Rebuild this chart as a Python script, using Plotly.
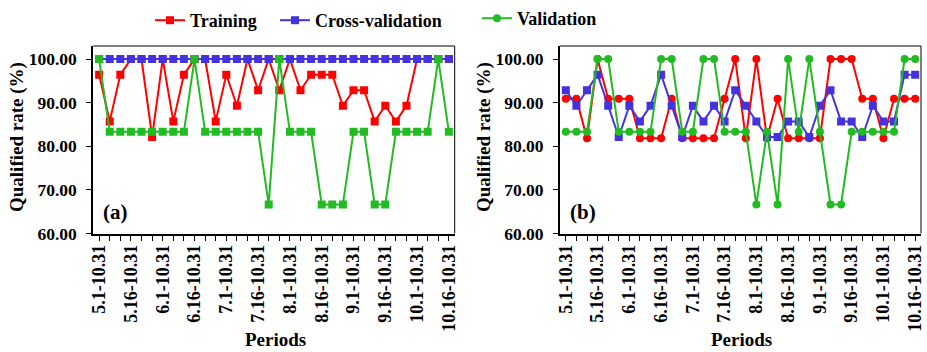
import plotly.graph_objects as go

periods = ["5.1-10.31", "5.6-10.31", "5.11-10.31", "5.16-10.31", "5.21-10.31", "5.26-10.31",
           "6.1-10.31", "6.6-10.31", "6.11-10.31", "6.16-10.31", "6.21-10.31", "6.26-10.31",
           "7.1-10.31", "7.6-10.31", "7.11-10.31", "7.16-10.31", "7.21-10.31", "7.26-10.31",
           "8.1-10.31", "8.6-10.31", "8.11-10.31", "8.16-10.31", "8.21-10.31", "8.26-10.31",
           "9.1-10.31", "9.6-10.31", "9.11-10.31", "9.16-10.31", "9.21-10.31", "9.26-10.31",
           "10.1-10.31", "10.6-10.31", "10.11-10.31", "10.16-10.31"]
shown_labels = ["5.1-10.31", "5.16-10.31", "6.1-10.31", "6.16-10.31", "7.1-10.31", "7.16-10.31",
                "8.1-10.31", "8.16-10.31", "9.1-10.31", "9.16-10.31", "10.1-10.31", "10.16-10.31"]

a_training = [96.43, 85.71, 96.43, 100, 100, 82.14, 100, 85.71, 96.43, 100, 100, 85.71,
              96.43, 89.29, 100, 92.86, 100, 92.86, 100, 92.86, 96.43, 96.43, 96.43, 89.29,
              92.86, 92.86, 85.71, 89.29, 85.71, 89.29, 100, 100, 100, 100]
a_cross = [100] * 34
a_validation = [100, 83.33, 83.33, 83.33, 83.33, 83.33, 83.33, 83.33, 83.33, 100, 83.33, 83.33,
                83.33, 83.33, 83.33, 83.33, 66.67, 100, 83.33, 83.33, 83.33, 66.67, 66.67, 66.67,
                83.33, 83.33, 66.67, 66.67, 83.33, 83.33, 83.33, 83.33, 100, 83.33]

b_training = [90.91, 90.91, 81.82, 100, 90.91, 90.91, 90.91, 81.82, 81.82, 81.82, 90.91, 81.82,
              81.82, 81.82, 81.82, 90.91, 100, 81.82, 100, 81.82, 90.91, 81.82, 81.82, 81.82,
              81.82, 100, 100, 100, 90.91, 90.91, 81.82, 90.91, 90.91, 90.91]
b_cross = [92.86, 89.29, 92.86, 96.43, 89.29, 82.14, 89.29, 85.71, 89.29, 96.43, 89.29, 82.14,
           89.29, 85.71, 89.29, 85.71, 92.86, 89.29, 85.71, 82.14, 82.14, 85.71, 85.71, 82.14,
           89.29, 92.86, 85.71, 85.71, 82.14, 89.29, 85.71, 85.71, 96.43, 96.43]
b_validation = [83.33, 83.33, 83.33, 100, 100, 83.33, 83.33, 83.33, 83.33, 100, 100, 83.33,
                83.33, 100, 100, 83.33, 83.33, 83.33, 66.67, 83.33, 66.67, 100, 83.33, 100,
                83.33, 66.67, 66.67, 83.33, 83.33, 83.33, 83.33, 83.33, 100, 100]

y_ticks = [60, 70, 80, 90, 100]

RED = "#ff0000"
BLUE = "#4433dd"
GREEN = "#22bb22"
FONT = "Times New Roman, Liberation Serif, serif"

idx = list(range(len(periods)))
ticktext = [p if p in shown_labels else "" for p in periods]

fig = go.Figure()

def add(x_axis, y_axis, ys, name, color, symbol, legend, showlegend):
    fig.add_trace(go.Scatter(
        x=idx, y=ys, name=name, mode="lines+markers",
        line=dict(color=color, width=2),
        marker=dict(symbol=symbol, size=8, color=color),
        xaxis=x_axis, yaxis=y_axis, legend=legend, showlegend=showlegend,
    ))

add("x", "y", a_training, "Training", RED, "square", "legend", True)
add("x", "y", a_cross, "Cross-validation", BLUE, "square", "legend2", True)
add("x", "y", a_validation, "Validation", GREEN, "square", "legend3", False)
add("x2", "y2", b_training, "Training", RED, "circle", "legend", False)
add("x2", "y2", b_cross, "Cross-validation", BLUE, "square", "legend2", False)
add("x2", "y2", b_validation, "Validation", GREEN, "circle", "legend3", True)

W, H = 927, 352

def px(x):
    return x / W

def py(y):
    return 1 - y / H

yd = [py(233.5), py(46)]
xd1 = [px(93.3), px(454.7)]
xd2 = [px(560), px(921)]

xaxis_common = dict(
    range=[-0.55, 33.55], tickmode="array", tickvals=idx, ticktext=ticktext,
    tickangle=-90, ticks="outside", ticklen=5, tickwidth=1, tickcolor="black",
    showline=True, linecolor="black", linewidth=2, mirror=False, showgrid=False,
    zeroline=False, tickfont=dict(family=FONT, size=18, color="black", weight="bold"),
    automargin=False, ticklabelstandoff=-3,
)
yaxis_common = dict(
    range=[60, 103], tickmode="array", tickvals=y_ticks,
    ticktext=[f"{v:.2f}" for v in y_ticks],
    ticks="outside", ticklen=5, tickwidth=1, tickcolor="black",
    showline=True, linecolor="black", linewidth=2, showgrid=False, zeroline=False,
    tickfont=dict(family=FONT, size=17.5, color="black", weight="bold"),
    automargin=False, ticklabelstandoff=6,
)

leg_font = dict(family=FONT, size=18, color="black", weight="bold")
fig.update_layout(
    width=W, height=H, margin=dict(l=0, r=0, t=0, b=0),
    paper_bgcolor="white", plot_bgcolor="white",
    xaxis=dict(domain=xd1, anchor="y", **xaxis_common),
    yaxis=dict(domain=yd, anchor="x", **yaxis_common),
    xaxis2=dict(domain=xd2, anchor="y2", **xaxis_common),
    yaxis2=dict(domain=yd, anchor="x2", **yaxis_common),
    font=dict(family=FONT, color="black"),
    legend=dict(x=px(150), y=py(2), xanchor="left", yanchor="top", orientation="h",
                font=leg_font, bgcolor="rgba(0,0,0,0)", borderwidth=0),
    legend2=dict(x=px(275), y=py(2), xanchor="left", yanchor="top", orientation="h",
                 font=leg_font, bgcolor="rgba(0,0,0,0)", borderwidth=0),
    legend3=dict(x=px(477), y=py(0), xanchor="left", yanchor="top", orientation="h",
                 font=leg_font, bgcolor="rgba(0,0,0,0)", borderwidth=0),
    showlegend=True,
)

# thin top/right frame
for xr, yr in (("x domain", "y domain"), ("x2 domain", "y2 domain")):
    fig.add_shape(type="line", xref=xr, yref=yr, x0=0, x1=1, y0=1, y1=1,
                  line=dict(color="black", width=1))
    fig.add_shape(type="line", xref=xr, yref=yr, x0=1, x1=1, y0=0, y1=1,
                  line=dict(color="black", width=1))

ann_font = dict(family=FONT, size=19, color="black", weight="bold")
common_ann = dict(xref="paper", yref="paper", showarrow=False, xanchor="center",
                  yanchor="middle", font=ann_font)
fig.add_annotation(text="Qualified rate (%)", x=px(17), y=py(137), textangle=-90, **common_ann)
fig.add_annotation(text="Qualified rate (%)", x=px(484), y=py(137), textangle=-90, **common_ann)
fig.add_annotation(text="Periods", x=px(275), y=py(339), **common_ann)
fig.add_annotation(text="Periods", x=px(741), y=py(339), **common_ann)
lab_font = dict(family=FONT, size=21, color="black", weight="bold")
fig.add_annotation(text="(a)", xref="paper", yref="paper", x=px(101), y=py(212),
                   xanchor="left", yanchor="middle", showarrow=False, font=lab_font)
fig.add_annotation(text="(b)", xref="paper", yref="paper", x=px(568), y=py(212),
                   xanchor="left", yanchor="middle", showarrow=False, font=lab_font)

fig.write_html("out.html", config={"displayModeBar": False},
               post_script="document.body.style.margin='0px';")
